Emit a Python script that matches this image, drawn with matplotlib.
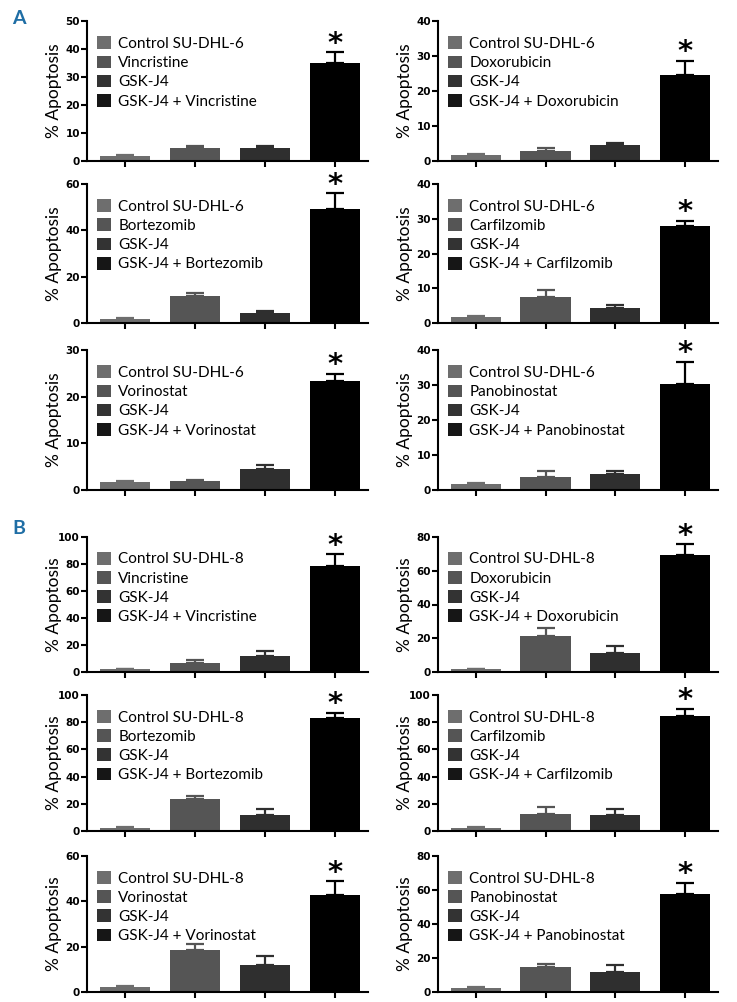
import matplotlib
matplotlib.use("Agg")
import matplotlib.pyplot as plt
from matplotlib.patches import Patch

# ---- data ----
drugs = ["Vincristine", "Doxorubicin", "Bortezomib", "Carfilzomib", "Vorinostat", "Panobinostat"]

dhl6_control = [1.8, 1.8, 1.7, 1.7, 1.7, 1.7]
dhl6_control_err = [0.3, 0.2, 0.4, 0.2, 0.3, 0.4]
dhl6_drug = [4.8, 2.9, 11.5, 7.4, 2.0, 3.8]
dhl6_drug_err = [0.7, 0.9, 1.4, 2.2, 0.2, 1.7]
dhl6_gsk = [4.5, 4.5, 4.4, 4.4, 4.5, 4.5]
dhl6_gsk_err = [0.9, 0.7, 0.9, 0.8, 0.8, 0.8]
dhl6_combo = [35.0, 24.7, 49.2, 27.9, 23.4, 30.4]
dhl6_combo_err = [3.9, 4.0, 6.9, 1.5, 1.5, 6.2]
dhl6_ymax = [50, 40, 60, 40, 30, 40]
dhl6_ystep = [10, 10, 20, 10, 10, 10]

dhl8_control = [2.0, 1.6, 2.2, 2.2, 2.2, 2.4]
dhl8_control_err = [0.5, 0.4, 0.7, 0.7, 0.4, 0.5]
dhl8_drug = [7.0, 21.6, 23.8, 12.8, 18.4, 14.5]
dhl8_drug_err = [1.7, 4.3, 2.0, 4.6, 2.9, 2.0]
dhl8_gsk = [12.0, 11.5, 12.0, 12.0, 11.9, 12.0]
dhl8_gsk_err = [3.6, 3.9, 4.0, 4.0, 3.8, 3.6]
dhl8_combo = [78.4, 69.5, 83.3, 84.3, 42.6, 57.8]
dhl8_combo_err = [8.7, 6.3, 3.7, 5.7, 6.2, 6.5]
dhl8_ymax = [100, 80, 100, 100, 60, 80]
dhl8_ystep = [20, 20, 20, 20, 20, 20]

bar_colors = ["#6e6e6e", "#555555", "#2f2f2f", "#000000"]
legend_colors = ["#6e6e6e", "#555555", "#333333", "#161616"]

W, H = 737, 1002
fig = plt.figure(figsize=(W / 100, H / 100), dpi=100)

# pixel layout of the axes boxes
rows_px = [(21, 161), (184, 323), (350, 490), (537, 672), (695, 831), (856, 992)]
cols_px = [(87, 368), (438, 718)]


def draw_panel(ax, line, drug, vals, errs, ymax, ystep):
    x = range(4)
    ax.bar(x, vals, width=0.72, color=bar_colors, zorder=2)
    for i in x:
        ax.errorbar(i, vals[i], yerr=[[0], [errs[i]]], fmt="none",
                    ecolor=bar_colors[i], elinewidth=1.6, capsize=6.5,
                    capthick=1.6, zorder=1)
    ax.annotate("*", xy=(3, vals[3] + errs[3]), xytext=(0, -4),
                textcoords="offset points", ha="center", va="bottom",
                fontsize=21, fontweight="bold", family="DejaVu Sans")
    ax.set_xlim(-0.54, 3.47)
    ax.set_ylim(0, ymax)
    ax.set_yticks(range(0, ymax + 1, ystep))
    ax.set_xticks(list(x))
    ax.set_xticklabels([])
    ax.tick_params(axis="both", direction="out", length=4, width=1.5, pad=1)
    for lab in ax.get_yticklabels():
        lab.set_fontweight("bold")
        lab.set_fontsize(7.5)
        lab.set_family("DejaVu Sans")
    for s in ["top", "right"]:
        ax.spines[s].set_visible(False)
    for s in ["left", "bottom"]:
        ax.spines[s].set_linewidth(1.5)
    ax.set_ylabel("% Apoptosis", fontsize=12.5, family="Lato")
    ax.yaxis.set_label_coords(-0.09, 0.5)
    labels = ["Control " + line, drug, "GSK-J4", "GSK-J4 + " + drug]
    handles = [Patch(facecolor=c, edgecolor="none") for c in legend_colors]
    ax.legend(handles, labels, loc="upper left", bbox_to_anchor=(0.035, 0.89),
              frameon=False, prop={"family": "Lato", "size": 11},
              handlelength=0.9, handleheight=0.9, handletextpad=0.5,
              labelspacing=0.3, borderpad=0, borderaxespad=0)


groups = [
    ("SU-DHL-6", dhl6_control, dhl6_control_err, dhl6_drug, dhl6_drug_err,
     dhl6_gsk, dhl6_gsk_err, dhl6_combo, dhl6_combo_err, dhl6_ymax, dhl6_ystep),
    ("SU-DHL-8", dhl8_control, dhl8_control_err, dhl8_drug, dhl8_drug_err,
     dhl8_gsk, dhl8_gsk_err, dhl8_combo, dhl8_combo_err, dhl8_ymax, dhl8_ystep),
]

for g, (line, c, ce, d, de, k, ke, m, me, ymaxs, steps) in enumerate(groups):
    for j in range(6):
        r = g * 3 + j // 2
        top, bot = rows_px[r]
        x0, x1 = cols_px[j % 2]
        ax = fig.add_axes([x0 / W, 1 - bot / H, (x1 - x0) / W, (bot - top) / H])
        vals = [c[j], d[j], k[j], m[j]]
        errs = [ce[j], de[j], ke[j], me[j]]
        draw_panel(ax, line, drugs[j], vals, errs, ymaxs[j], steps[j])

fig.text(12 / W, 1 - 18 / H, "A", color="#1f6ea5", fontsize=14,
         fontweight="bold", family="Lato", ha="left", va="center")
fig.text(12 / W, 1 - 528 / H, "B", color="#1f6ea5", fontsize=14,
         fontweight="bold", family="Lato", ha="left", va="center")

fig.savefig("out.png", dpi=100)
